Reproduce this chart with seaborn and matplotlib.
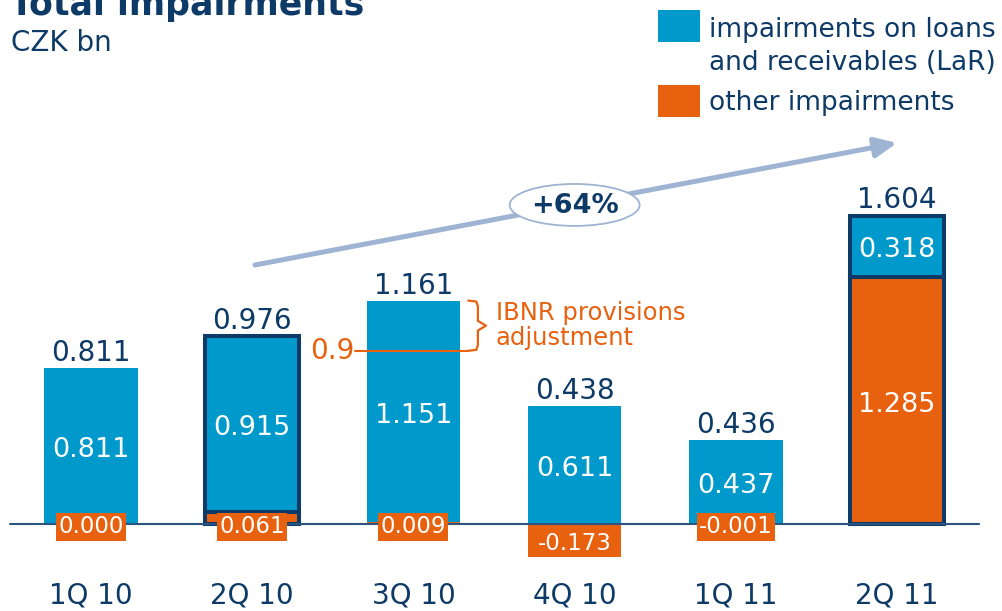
import numpy as np
import pandas as pd
import matplotlib.pyplot as plt
from matplotlib.patches import Rectangle, Ellipse
import seaborn as sns

quarters = ["1Q 10", "2Q 10", "3Q 10", "4Q 10", "1Q 11", "2Q 11"]
lar = [0.811, 0.915, 1.151, 0.611, 0.437, 0.318]
other = [0.000, 0.061, 0.009, -0.173, -0.001, 1.285]
totals = [0.811, 0.976, 1.161, 0.438, 0.436, 1.604]
highlight = ["2Q 10", "2Q 11"]
ibnr_level = 0.9
growth_label = "+64%"

BLUE = "#0099cc"
ORANGE = "#e8610f"
NAVY = "#0d3a66"
ARROW = "#9fb3d3"
W, H = 1002, 611

df = pd.DataFrame({"quarter": quarters, "lar": lar, "other": other, "total": totals})
df["lar_bottom"] = df["other"].clip(lower=0)

sns.set_theme(style="white")
plt.rcParams["font.family"] = ["DejaVu Sans"]

fig = plt.figure(figsize=(W / 100, H / 100), dpi=100)
ax = fig.add_axes([0, 0, 1, 1])

bw = 0.58
sns.barplot(data=df, x="quarter", y="other", color=ORANGE, saturation=1,
            width=bw, ax=ax, zorder=2)
sns.barplot(data=df, x="quarter", y="lar", bottom=df["lar_bottom"].to_numpy(),
            color=BLUE, saturation=1, width=bw, ax=ax, zorder=2)

# navy outline on the highlighted quarters
for cont in ax.containers:
    for i, bar in enumerate(cont):
        if quarters[i] in highlight:
            bar.set_edgecolor(NAVY)
            bar.set_linewidth(2.9)
        else:
            bar.set_linewidth(0)

ax.set_xlim(-0.5645, 5.651)
ax.set_ylim(-0.452, 2.723)
ax.axis("off")

# baseline
ax.plot([-0.5, 5.51], [0, 0], color="#2b5580", lw=1.5, zorder=3)

for i, row in df.iterrows():
    # total on top
    ax.annotate(f"{row['total']:.3f}", (i, max(row["total"], row["lar_bottom"] + row["lar"])),
                xytext=(0, 5), textcoords="offset points", ha="center", va="baseline",
                fontsize=20, color=NAVY, zorder=6)
    # LaR label in the middle of the blue segment
    ax.annotate(f"{row['lar']:.3f}", (i, row["lar_bottom"] + row["lar"] / 2),
                xytext=(0, -3), textcoords="offset points", ha="center", va="center",
                fontsize=19.5, color="white", zorder=6)
    # other impairments label
    if row["other"] > 0.5:
        ax.annotate(f"{row['other']:.3f}", (i, row["other"] / 2),
                    xytext=(0, -3), textcoords="offset points", ha="center", va="center",
                    fontsize=19.5, color="white", zorder=6)
    else:
        ax.annotate(f"{row['other']:.3f}", (i, min(row["other"] / 2, 0)),
                    xytext=(0, -2), textcoords="offset points", ha="center", va="center",
                    fontsize=16.5, color="white", zorder=6,
                    bbox=dict(boxstyle="square,pad=0.1", fc=ORANGE, ec="none"))
    ax.text(i, -0.37, row["quarter"], ha="center", va="center", fontsize=20, color=NAVY)

# IBNR bracket on 3Q 10
k = quarters.index("3Q 10")
top = totals[k]
mid = (top + ibnr_level) / 2
bx = k + 0.40
ax.plot([bx - 0.06, bx - 0.01, bx, bx, bx + 0.05, bx, bx, bx - 0.01, bx - 0.06],
        [top, top - 0.005, top - 0.03, mid + 0.025, mid, mid - 0.025,
         ibnr_level + 0.03, ibnr_level + 0.005, ibnr_level],
        color=ORANGE, lw=1.6, zorder=4)
ax.plot([k - 0.36, bx - 0.06], [ibnr_level, ibnr_level], color=ORANGE, lw=1.5, zorder=4)
ax.text(k - 0.365, ibnr_level, f"{ibnr_level:g}", ha="right", va="center",
        fontsize=20, color=ORANGE)
ax.text(bx + 0.11, mid, "IBNR provisions\nadjustment", ha="left", va="center",
        fontsize=17.5, color=ORANGE, linespacing=1.05)

# growth arrow
ax.annotate("", xy=(5.0, 1.98), xytext=(1.017, 1.346),
            arrowprops=dict(arrowstyle="-|>,head_length=1.1,head_width=0.5",
                            mutation_scale=12, lw=3.6, color=ARROW,
                            shrinkA=0, shrinkB=0), zorder=1)
ax.add_patch(Ellipse((3.0, 1.658), 0.806, 0.218, fc="white", ec=ARROW, lw=1.3, zorder=4))
ax.text(3.0, 1.655, growth_label, ha="center", va="center", fontsize=19.5,
        fontweight="bold", color=NAVY, zorder=5)

# title
fig.text(10 / W, 1 - 15 / H, "Total impairments", ha="left", va="baseline",
         fontsize=25, fontweight="bold", color=NAVY)
fig.text(11 / W, 1 - 51 / H, "CZK bn", ha="left", va="baseline", fontsize=20, color=NAVY)

# legend
fig.add_artist(Rectangle((658 / W, 1 - 42 / H), 42 / W, 32 / H, transform=fig.transFigure,
                         fc=BLUE, ec="none"))
fig.add_artist(Rectangle((658 / W, 1 - 117 / H), 42 / W, 32 / H, transform=fig.transFigure,
                         fc=ORANGE, ec="none"))
fig.text(709 / W, 1 - 37 / H, "impairments on loans", fontsize=19, color=NAVY, va="baseline")
fig.text(709 / W, 1 - 70 / H, "and receivables (LaR)", fontsize=19, color=NAVY, va="baseline")
fig.text(709 / W, 1 - 110 / H, "other impairments", fontsize=19, color=NAVY, va="baseline")

fig.savefig("out.png", dpi=100)
